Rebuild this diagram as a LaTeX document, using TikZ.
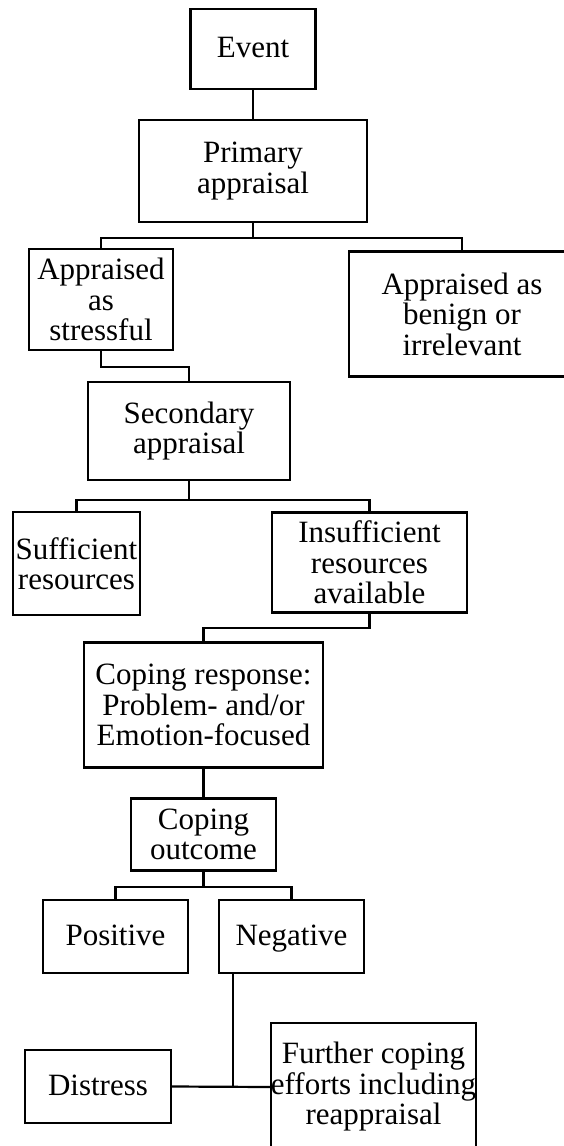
\documentclass[tikz,border=0pt]{standalone}
\usepackage{fontspec}
\setmainfont{Liberation Serif}
\begin{document}
\begin{tikzpicture}[x=1pt,y=-1pt,
  box/.style={draw=black, line width=2.2pt, inner sep=0pt, align=center,
    font=\fontsize{31}{30.5}\selectfont},
  oneline/.style={text height=21pt, text depth=4pt},
  link/.style={draw=black, line width=2.2pt}]
\clip (0,0) rectangle (564,1146);
\fill[white] (0,0) rectangle (564,1146);
\node[box, oneline, minimum width=125pt, minimum height=80pt] (event) at (253,49) {Event};
\node[box, minimum width=228pt, minimum height=102pt] (primary)   at (253,171)    {Primary\\appraisal};
\node[box, minimum width=144pt, minimum height=101pt] (stress)    at (101,299.5)  {Appraised\\as\\stressful};
\node[box, minimum width=226pt, minimum height=125pt] (benign)    at (462,314)    {Appraised as\\benign or\\irrelevant};
\node[box, minimum width=202pt, minimum height=98pt]  (secondary) at (189,431)    {Secondary\\appraisal};
\node[box, minimum width=127pt, minimum height=103pt] (suff)      at (76.5,563.5) {Sufficient\\resources};
\node[box, minimum width=195pt, minimum height=100pt] (insuff)    at (369.5,562.5) {Insufficient\\resources\\available};
\node[box, minimum width=239pt, minimum height=125pt] (response)  at (203.5,705)  {Coping response:\\Problem- and/or\\Emotion-focused};
\node[box, minimum width=145pt, minimum height=72pt]  (outcome)   at (203.5,834.5) {Coping\\outcome};
\node[box, oneline, minimum width=145pt, minimum height=73pt] (positive) at (115.5,936.5) {Positive};
\node[box, oneline, minimum width=145pt, minimum height=73pt] (negative) at (291.5,936.5) {Negative};
\node[box, oneline, minimum width=146pt, minimum height=73pt] (distress) at (98,1086.5) {Distress};
\node[box, minimum width=203pt, minimum height=128pt] (further)   at (373.5,1087) {Further coping\\efforts including\\reappraisal};
\coordinate (nj) at (233,1086.5);
\draw[link] (event.south) -- (primary.north);
\draw[link] (primary.south) -- ++(0,15) -| (stress.north);
\draw[link] (primary.south) -- ++(0,15) -| (benign.north);
\draw[link] (stress.south) -- ++(0,16) -| (secondary.north);
\draw[link] (secondary.south) -- ++(0,19) -| (suff.north);
\draw[link] (secondary.south) -- ++(0,19) -| (insuff.north);
\draw[link] (insuff.south) -- ++(0,14) -| (response.north);
\draw[link] (response.south) -- (outcome.north);
\draw[link] (outcome.south) -- ++(0,15) -| (positive.north);
\draw[link] (outcome.south) -- ++(0,15) -| (negative.north);
\draw[link] (nj |- negative.south) -- (nj);
\draw[link] (distress.east) -- (further.west);
\end{tikzpicture}
\end{document}
